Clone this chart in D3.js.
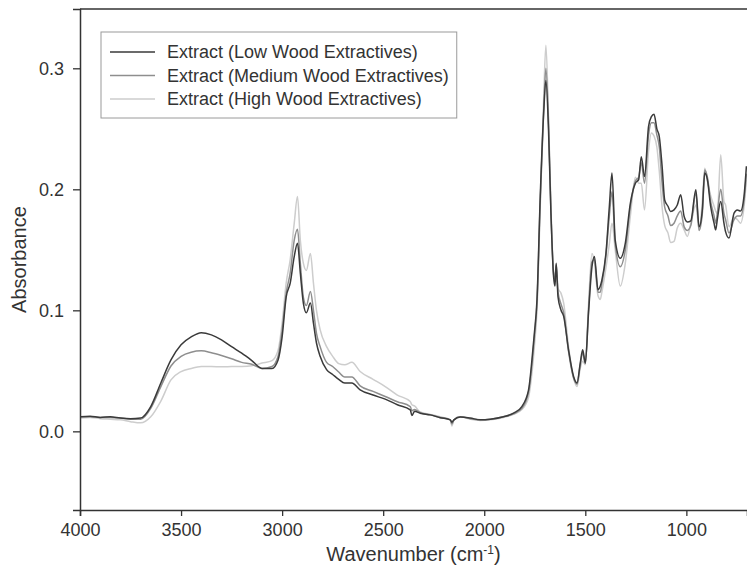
<!DOCTYPE html>
<html>
<head>
<meta charset="utf-8">
<script src="https://cdn.jsdelivr.net/npm/d3@7"></script>
<style>
  html, body { margin: 0; padding: 0; background: #fff; }
  svg { display: block; font-family: "Liberation Sans", Arial, sans-serif; }
</style>
</head>
<body>
<div id="chart"></div>
<script>
// wavenumbers (cm-1) shared by the three spectra
const wavenumbers = [
  4000, 3950, 3900, 3850, 3800, 3750, 3700, 3650, 3600, 3550, 3500, 3450, 3400, 3350, 3300, 3250,
  3200, 3150, 3100, 3050, 3020, 3000, 2980, 2960, 2940, 2924, 2910, 2895, 2880, 2860, 2845, 2830,
  2812, 2780, 2750, 2720, 2690, 2655, 2614, 2550, 2490, 2430, 2366, 2358, 2345, 2317, 2267, 2218,
  2168, 2160, 2150, 2119, 2069, 2020, 1970, 1905, 1855, 1814, 1781, 1764, 1752, 1739, 1723, 1706,
  1695, 1682, 1670, 1657, 1650, 1644, 1635, 1620, 1607, 1583, 1558, 1541, 1525, 1513, 1500, 1484,
  1467, 1455, 1437, 1426, 1418, 1398, 1381, 1368, 1352, 1327, 1302, 1277, 1252, 1236, 1223, 1207,
  1187, 1173, 1160, 1146, 1134, 1120, 1107, 1091, 1078, 1061, 1045, 1028, 1011, 995, 978, 953,
  937, 921, 909, 896, 880, 863, 855, 847, 830, 814, 806, 789, 764, 748, 732, 715, 703
];

const lowWood = [
  .012, .0125, .0115, .012, .011, .0105, .011, .0205, .040, .059, .0715, .078, .0815, .0797, .0756, .070,
  .0646, .0585, .052, .052, .059, .078, .111, .1225, .1445, .1555, .131, .106, .098, .106, .0894, .073,
  .062, .051, .047, .043, .040, .040, .0343, .030, .0266, .022, .0178, .013, .0165, .015, .0136, .0113,
  .0095, .0075, .0095, .0118, .011, .0095, .010, .012, .015, .0205, .034, .059, .081, .109, .194, .263,
  .290, .249, .180, .128, .120, .139, .111, .100, .095, .0674, .0453, .040, .0564, .0674, .0564, .098,
  .136, .1445, .117, .120, .125, .147, .186, .2134, .158, .143, .1555, .1886, .205, .208, .227, .2106,
  .252, .260, .262, .250, .2436, .219, .191, .186, .1817, .183, .187, .1955, .1775, .173, .174, .1996,
  .169, .183, .2134, .208, .186, .172, .1665, .175, .190, .172, .165, .1597, .1803, .183, .182, .194, .219
];

const mediumWood = [
  .012, .012, .0115, .0115, .011, .010, .010, .019, .037, .054, .062, .0654, .0665, .065, .0627, .060,
  .057, .0554, .052, .0536, .062, .0835, .114, .131, .158, .167, .139, .111, .104, .1155, .100, .081,
  .070, .057, .0536, .049, .045, .045, .0376, .033, .0288, .0245, .0205, .017, .018, .0155, .0136, .0115,
  .0095, .006, .0095, .012, .0105, .0095, .010, .012, .0145, .019, .032, .055, .078, .106, .190, .265,
  .300, .255, .182, .130, .125, .138, .115, .105, .098, .066, .044, .039, .055, .065, .056, .100,
  .140, .142, .115, .115, .122, .145, .178, .198, .155, .136, .150, .186, .207, .210, .222, .205,
  .245, .255, .255, .245, .235, .205, .185, .178, .170, .172, .178, .182, .169, .166, .170, .197,
  .166, .180, .216, .210, .190, .178, .172, .180, .200, .180, .175, .164, .175, .178, .178, .190, .213
];

const highWood = [
  .011, .0115, .0105, .010, .0095, .008, .007, .012, .025, .0425, .0494, .052, .0535, .0536, .0533, .0535,
  .0536, .0542, .0564, .0585, .067, .0895, .1225, .142, .172, .194, .158, .139, .133, .147, .1225, .100,
  .084, .070, .062, .056, .055, .057, .0494, .043, .037, .030, .0246, .022, .021, .016, .014, .012,
  .0095, .0044, .0095, .012, .010, .009, .0095, .0115, .014, .018, .028, .048, .070, .100, .185, .275,
  .319, .260, .185, .132, .128, .135, .118, .114, .106, .070, .044, .037, .052, .058, .055, .105,
  .147, .140, .112, .109, .115, .135, .155, .172, .150, .120, .139, .178, .210, .205, .205, .183,
  .232, .2466, .244, .235, .215, .185, .170, .164, .156, .157, .168, .172, .1665, .161, .172, .187,
  .1665, .190, .2175, .207, .195, .186, .182, .180, .2285, .190, .187, .169, .177, .175, .172, .185, .208
];

const seriesNames = [
  "Extract (Low Wood Extractives)",
  "Extract (Medium Wood Extractives)",
  "Extract (High Wood Extractives)"
];
const seriesColors = ["#3a3a3a", "#8e8e8e", "#cdcdcd"];

const xTicks = [4000, 3500, 3000, 2500, 2000, 1500, 1000];
const yTicks = [0.0, 0.1, 0.2, 0.3];

const viewW = 747, viewH = 566;
const margin = { top: 9, right: 0, bottom: 56, left: 80 };
const innerW = viewW - margin.left - margin.right;
const innerH = viewH - margin.top - margin.bottom;

const svg = d3.select("#chart")
  .append("svg")
  .attr("width", viewW)
  .attr("height", viewH);

const chart = svg.append("g")
  .attr("transform", `translate(${margin.left},${margin.top})`);

// reversed x axis, as usual for IR spectra
const x = d3.scaleLinear().domain([4000, 700]).range([0, innerW]);
const y = d3.scaleLinear().domain([-0.065, 0.349]).range([innerH, 0]);

const series = [lowWood, mediumWood, highWood].map((vals, i) => ({
  name: seriesNames[i],
  color: seriesColors[i],
  points: wavenumbers.map((w, j) => [w, vals[j]])
}));

const line = d3.line()
  .x(d => x(d[0]))
  .y(d => y(d[1]))
  .curve(d3.curveMonotoneX);

chart.append("defs").append("clipPath").attr("id", "clip")
  .append("rect").attr("width", innerW).attr("height", innerH);

// draw lightest first so the dark trace sits on top
chart.append("g")
  .attr("clip-path", "url(#clip)")
  .selectAll("path")
  .data(series.slice().reverse())
  .join("path")
  .attr("fill", "none")
  .attr("stroke", d => d.color)
  .attr("stroke-width", 1.5)
  .attr("stroke-linejoin", "round")
  .attr("d", d => line(d.points));

// frame (top line; right edge falls outside the picture)
chart.append("line")
  .attr("x1", 0).attr("x2", innerW).attr("y1", 0).attr("y2", 0)
  .attr("stroke", "#333").attr("stroke-width", 1.5);

const xAxis = chart.append("g")
  .attr("transform", `translate(0,${innerH})`)
  .call(d3.axisBottom(x).tickValues(xTicks).tickFormat(d3.format("d")).tickSize(6).tickPadding(7));

const yAxis = chart.append("g")
  .call(d3.axisLeft(y).tickValues(yTicks).tickFormat(d3.format(".1f")).tickSize(7).tickPadding(9));

[xAxis, yAxis].forEach(g => {
  g.select(".domain").attr("stroke", "#333").attr("stroke-width", 1.5);
  g.selectAll(".tick line").attr("stroke", "#333").attr("stroke-width", 1.3);
  g.selectAll(".tick text")
    .attr("fill", "#333")
    .style("font-size", "18px")
    .style("font-family", "'Liberation Sans', Arial, sans-serif");
});

// axis titles
svg.append("text")
  .attr("transform", `translate(26,${margin.top + innerH / 2}) rotate(-90)`)
  .attr("text-anchor", "middle")
  .attr("fill", "#333")
  .style("font-size", "20px")
  .text("Absorbance");

const xTitle = svg.append("text")
  .attr("x", margin.left + innerW / 2)
  .attr("y", 561)
  .attr("text-anchor", "middle")
  .attr("fill", "#333")
  .style("font-size", "20px");
xTitle.append("tspan").text("Wavenumber (cm");
xTitle.append("tspan").attr("dy", -7).style("font-size", "12px").text("-1");
xTitle.append("tspan").attr("dy", 7).text(")");

// legend
const legend = chart.append("g").attr("transform", "translate(21,23)");
const rowH = 23.5;
const legendRows = legend.selectAll("g.row")
  .data(series)
  .join("g")
  .attr("class", "row")
  .attr("transform", (d, i) => `translate(0,${20 + i * rowH})`);

legendRows.append("line")
  .attr("x1", 9).attr("x2", 54)
  .attr("stroke", d => d.color)
  .attr("stroke-width", 1.5);

legendRows.append("text")
  .attr("x", 66)
  .attr("dy", "0.35em")
  .attr("fill", "#333")
  .style("font-size", "18px")
  .text(d => d.name);

const textW = d3.max(legendRows.selectAll("text").nodes(), n => n.getComputedTextLength());
legend.insert("rect", ":first-child")
  .attr("width", 66 + textW + 8)
  .attr("height", 86)
  .attr("fill", "#fff")
  .attr("stroke", "#9a9a9a")
  .attr("stroke-width", 1);
</script>
</body>
</html>
